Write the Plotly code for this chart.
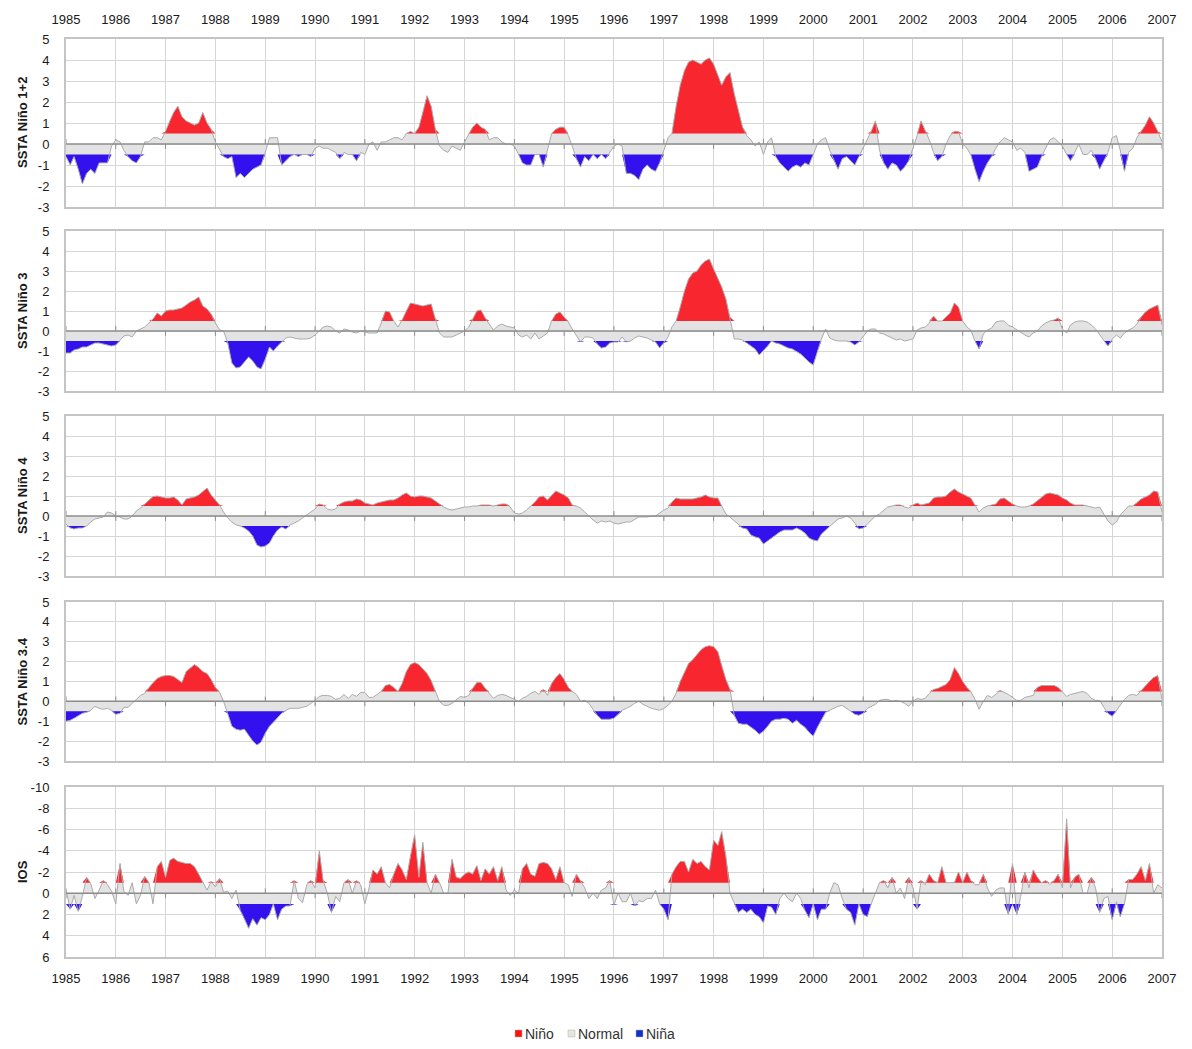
import numpy as np
import pandas as pd
import plotly.graph_objects as go

# ---------------- data ----------------
years = list(range(1985, 2008))
months = pd.date_range("1985-01-01", "2007-01-01", freq="MS")

nino12 = [
    -0.6, -1.0, -0.6, -1.2, -1.9, -1.4, -1.2, -1.4, -0.9, -0.9, -0.9, -0.1,
    0.2, 0.1, -0.3, -0.6, -0.8, -0.9, -0.6, 0.1, 0.1, 0.3, 0.3, 0.2,
    0.6, 1.1, 1.5, 1.8, 1.3, 1.1, 1.0, 0.9, 1.0, 1.5, 1.0, 0.7,
    0.1, -0.3, -0.6, -0.7, -0.6, -1.6, -1.4, -1.6, -1.4, -1.2, -1.1, -1.0,
    -0.4, 0.3, 0.3, 0.3, -1.0, -0.8, -0.6, -0.5, -0.6, -0.5, -0.5, -0.6,
    -0.2, -0.1, -0.2, -0.2, -0.3, -0.4, -0.7, -0.4, -0.5, -0.5, -0.8, -0.4,
    -0.5, 0.0, 0.1, -0.3, 0.1, 0.1, 0.2, 0.3, 0.3, 0.2, 0.5, 0.6,
    0.5, 0.8, 1.5, 2.3, 1.8, 0.7, -0.1, -0.3, -0.4, -0.1, -0.2, -0.3,
    0.1, 0.5, 0.8, 1.0, 0.8, 0.7, 0.2, 0.3, 0.3, 0.1, 0.0, 0.0,
    -0.1, -0.5, -0.9, -1.0, -1.0, -0.5, -0.5, -1.1, -0.3, 0.5, 0.7, 0.8,
    0.8, 0.4, -0.1, -0.7, -1.1, -0.6, -0.8, -0.5, -0.7, -0.5, -0.7, -0.4,
    -0.1, 0.0, -0.1, -1.4, -1.4, -1.5, -1.7, -1.2, -1.0, -1.2, -1.3, -0.9,
    -0.3, 0.3, 0.5, 1.8, 2.8, 3.5, 3.9, 4.0, 3.9, 3.8, 4.0, 4.1,
    3.8, 3.3, 2.8, 3.2, 3.4, 2.4, 1.6, 0.8, 0.4, 0.2, -0.1, 0.1,
    -0.5, 0.1, 0.3, -0.6, -0.9, -1.1, -1.3, -1.1, -1.0, -1.1, -0.9, -1.0,
    -0.5, 0.0, 0.2, 0.3, -0.3, -0.8, -1.2, -0.7, -0.6, -0.8, -1.0, -0.6,
    -0.2, 0.2, 0.6, 1.1, -0.3, -0.9, -1.2, -0.9, -1.0, -1.3, -1.1, -0.8,
    -0.2, 0.4, 1.1, 0.6, 0.2, -0.4, -0.8, -0.6, 0.0, 0.4, 0.6, 0.6,
    0.0, -0.2, -0.5, -1.2, -1.8, -1.3, -0.9, -0.6, -0.2, 0.1, 0.3, 0.2,
    0.1, -0.3, -0.2, -0.4, -1.3, -1.2, -1.1, -0.6, -0.2, 0.2, 0.3, 0.1,
    -0.1, -0.5, -0.8, -0.4, 0.0, -0.5, -0.5, -0.3, -0.7, -1.2, -0.8, -0.4,
    0.3, 0.4, -0.3, -1.3, -0.4, -0.2, 0.3, 0.6, 0.9, 1.3, 1.0, 0.6,
    0.1,
]

nino3 = [
    -1.1, -1.1, -0.95, -0.9, -0.8, -0.8, -0.7, -0.6, -0.6, -0.65, -0.7, -0.75,
    -0.7, -0.45, -0.25, -0.2, -0.3, 0.0, 0.1, 0.2, 0.4, 0.6, 0.9, 0.75,
    1.0, 1.05, 1.05, 1.1, 1.15, 1.3, 1.45, 1.55, 1.7, 1.25, 1.1, 0.85,
    0.4, 0.05, 0.0, -0.6, -1.6, -1.85, -1.8, -1.55, -1.3, -1.5, -1.8, -1.9,
    -1.4, -0.8, -1.0, -0.75, -0.55, -0.35, -0.3, -0.35, -0.4, -0.4, -0.4, -0.35,
    -0.2, 0.0, 0.2, 0.25, 0.2, 0.0, -0.1, 0.1, 0.05, -0.05, -0.1, 0.0,
    -0.05, -0.1, -0.1, -0.1, 0.4, 1.0, 0.95, 0.5, 0.2, 0.55, 1.0, 1.4,
    1.35, 1.3, 1.25, 1.3, 1.35, 0.6, -0.1, -0.3, -0.3, -0.3, -0.2, -0.1,
    0.0, 0.2, 0.6, 1.0, 1.05, 0.65, 0.35, 0.05, 0.25, 0.35, 0.25, 0.2,
    0.15, -0.2, -0.3, -0.2, -0.4, -0.1, -0.4, -0.25, -0.1, 0.5, 0.85, 0.95,
    0.7, 0.45, 0.1, -0.25, -0.55, -0.3, -0.3, -0.35, -0.65, -0.85, -0.8, -0.6,
    -0.55, -0.55, -0.3, -0.55, -0.5, -0.35, -0.25, -0.3, -0.35, -0.45, -0.55, -0.85,
    -0.6, -0.3, 0.2, 0.5, 1.2, 2.0, 2.6, 2.9, 3.0, 3.3, 3.5, 3.6,
    3.1, 2.6, 2.2, 1.6, 0.7, -0.4, -0.4, -0.45, -0.6, -0.75, -0.9, -1.2,
    -1.0, -0.75, -0.5, -0.6, -0.65, -0.75, -0.85, -0.9, -1.05, -1.15, -1.35, -1.55,
    -1.7, -1.0, -0.4, 0.1, -0.35, -0.45, -0.5, -0.5, -0.5, -0.55, -0.7, -0.55,
    -0.3, 0.0, 0.1, 0.1, -0.1, -0.15, -0.25, -0.35, -0.45, -0.4, -0.5, -0.45,
    -0.4, 0.05, 0.15, 0.2, 0.4, 0.75, 0.5, 0.5, 0.7, 0.9, 1.4, 1.2,
    0.5, 0.2, 0.05, -0.5, -0.9, -0.15, 0.05, 0.15, 0.45, 0.5, 0.5, 0.3,
    0.2, 0.05, -0.05, -0.2, -0.3, -0.1, 0.0, 0.25, 0.4, 0.5, 0.55, 0.65,
    0.1, -0.1, 0.3, 0.45, 0.5, 0.5, 0.45, 0.3, 0.1, -0.2, -0.5, -0.75,
    -0.4, -0.2, -0.35, -0.1, 0.05, 0.15, 0.35, 0.7, 0.95, 1.1, 1.2, 1.3,
    0.3,
]

nino4 = [
    -0.4, -0.6, -0.65, -0.6, -0.6, -0.5, -0.3, -0.15, -0.1, -0.05, 0.2, 0.15,
    0.0, -0.05, -0.15, -0.15, 0.0, 0.25, 0.4, 0.6, 0.8, 0.97, 1.0, 0.95,
    0.9, 0.9, 0.95, 0.8, 0.55, 0.85, 0.9, 0.95, 1.05, 1.2, 1.4, 1.05,
    0.8, 0.55, 0.2, -0.1, -0.3, -0.45, -0.5, -0.6, -0.75, -1.0, -1.45, -1.55,
    -1.5, -1.35, -1.0, -0.7, -0.55, -0.65, -0.45, -0.35, -0.25, -0.1, 0.05, 0.2,
    0.35, 0.6, 0.55, 0.35, 0.3, 0.35, 0.6, 0.7, 0.75, 0.75, 0.85, 0.8,
    0.65, 0.6, 0.55, 0.65, 0.7, 0.75, 0.8, 0.8, 0.9, 1.05, 1.15, 1.0,
    0.95, 1.0, 1.0, 0.95, 0.9, 0.75, 0.6, 0.45, 0.35, 0.3, 0.35, 0.4,
    0.45, 0.45, 0.5, 0.5, 0.55, 0.55, 0.55, 0.5, 0.55, 0.6, 0.6, 0.45,
    0.15, 0.1, 0.15, 0.3, 0.5, 0.7, 0.95, 1.0, 0.8, 1.05, 1.25, 1.15,
    1.05, 0.9, 0.55, 0.5, 0.4, 0.2, 0.0, -0.2, -0.35, -0.25, -0.3, -0.25,
    -0.35, -0.4, -0.35, -0.3, -0.3, -0.15, -0.05, -0.05, -0.05, 0.0, 0.0, 0.15,
    0.3, 0.4, 0.7, 0.9, 0.85, 0.85, 0.85, 0.85, 0.9, 0.95, 1.05, 0.95,
    0.9, 0.9, 0.5, 0.1, -0.05, -0.25, -0.4, -0.6, -0.65, -0.95, -1.05, -1.1,
    -1.4, -1.25, -1.1, -0.95, -0.8, -0.7, -0.7, -0.7, -0.6, -0.7, -0.85, -1.1,
    -1.2, -1.25, -0.9, -0.7, -0.5, -0.3, -0.15, -0.1, 0.0, -0.1, -0.35, -0.65,
    -0.6, -0.4, -0.2, 0.0, 0.1, 0.3, 0.45, 0.5, 0.55, 0.55, 0.45, 0.4,
    0.55, 0.65, 0.55, 0.6, 0.65, 0.9, 0.95, 0.95, 1.0, 1.2, 1.35, 1.2,
    1.1, 1.0, 0.9, 0.55, 0.2, 0.4, 0.5, 0.55, 0.6, 0.85, 0.9, 0.75,
    0.6, 0.5, 0.45, 0.45, 0.5, 0.6, 0.75, 0.95, 1.1, 1.15, 1.1, 1.05,
    0.9, 0.8, 0.65, 0.55, 0.55, 0.55, 0.5, 0.45, 0.4, 0.45, 0.1, -0.25,
    -0.45, -0.3, 0.05, 0.3, 0.5, 0.5, 0.65, 0.85, 0.95, 1.05, 1.25, 1.2,
    0.2,
]

nino34 = [
    -1.0, -0.95, -0.85, -0.7, -0.6, -0.55, -0.45, -0.25, -0.35, -0.4, -0.35, -0.45,
    -0.65, -0.6, -0.3, -0.3, -0.1, 0.15, 0.3, 0.4, 0.7, 0.95, 1.15, 1.25,
    1.3, 1.3, 1.25, 1.1, 0.95, 1.5, 1.65, 1.85, 1.7, 1.5, 1.4, 1.1,
    0.7, 0.45, 0.0, -0.6, -1.25, -1.4, -1.45, -1.4, -1.7, -2.0, -2.2, -2.05,
    -1.6, -1.25, -1.05, -0.8, -0.6, -0.45, -0.35, -0.35, -0.35, -0.3, -0.25, -0.1,
    0.05, 0.25, 0.3, 0.3, 0.25, 0.1, 0.15, 0.35, 0.15, 0.35, 0.25, 0.45,
    0.45, 0.2, 0.2, 0.35, 0.5, 0.8, 0.85, 0.7, 0.5, 0.9, 1.5, 1.85,
    1.95, 1.85, 1.65, 1.4, 1.05, 0.5, 0.0, -0.2, -0.2, -0.1, 0.1, 0.25,
    0.2, 0.3, 0.65, 0.95, 0.95, 0.65, 0.4, 0.15, 0.3, 0.35, 0.3, 0.2,
    0.1, 0.0, 0.15, 0.25, 0.4, 0.5, 0.35, 0.6, 0.3, 0.9, 1.2, 1.4,
    1.1, 0.7, 0.5, 0.35, 0.0, 0.05, -0.1, -0.4, -0.7, -0.9, -0.9, -0.9,
    -0.85, -0.65, -0.45, -0.35, -0.25, -0.1, 0.0, -0.15, -0.25, -0.35, -0.4, -0.45,
    -0.35, -0.2, 0.0, 0.4, 1.0, 1.5, 1.9, 2.1, 2.35, 2.6, 2.75, 2.8,
    2.75, 2.5, 1.8, 1.1, 0.6, -0.7, -1.1, -1.15, -1.15, -1.3, -1.45, -1.65,
    -1.5, -1.25, -1.0, -0.9, -0.9, -0.85, -0.9, -1.1, -0.95, -1.15, -1.3, -1.55,
    -1.75, -1.3, -0.95, -0.55, -0.45, -0.35, -0.25, -0.2, -0.35, -0.5, -0.65, -0.7,
    -0.6, -0.35, -0.25, -0.15, 0.05, 0.1, 0.1, 0.0, 0.05, 0.0, -0.1, -0.25,
    0.0, 0.15, 0.1, 0.15, 0.4, 0.6, 0.65, 0.75, 0.85, 1.1, 1.7, 1.4,
    1.0, 0.7, 0.5, 0.1, -0.4, 0.0, 0.3, 0.2, 0.35, 0.55, 0.45, 0.35,
    0.2, 0.05, 0.05, 0.2, 0.25, 0.3, 0.7, 0.8, 0.8, 0.8, 0.8, 0.7,
    0.45, 0.25, 0.35, 0.4, 0.45, 0.5, 0.4, 0.15, 0.05, 0.05, -0.3, -0.6,
    -0.75, -0.45, -0.15, 0.1, 0.3, 0.35, 0.3, 0.55, 0.8, 1.0, 1.2, 1.3,
    0.1,
]

ios = [
    -0.3, 1.5, 0.2, 1.7, 0.3, -1.5, -0.9, 0.5, -0.3, -1.2, -0.8, -0.2,
    1.0, -2.8, -0.2, 0.2, -1.0, 1.0, 0.2, -1.6, -1.0, 1.0, -2.5, -3.0,
    -1.5, -3.1, -3.3, -3.0, -2.9, -2.8, -2.8, -2.5, -1.8, -1.0, -0.3, -1.1,
    -0.6, -1.4, -0.1, -0.2, 0.5, -0.3, 1.6, 2.4, 3.3, 2.4, 3.0, 2.3,
    2.5, 2.0, 1.0, 2.5, 1.5, 1.2, 1.2, -1.2, 0.5, 0.9, -0.8, -1.2,
    -0.5, -4.0, -1.2, 0.0, 1.8, 0.3, 0.8, -1.0, -1.3, 0.0, -1.2, -0.8,
    1.0, -0.5, -2.2, -1.8, -2.5, -1.0, -0.5, -1.8, -2.8, -2.2, -1.3, -3.5,
    -5.5, -1.5, -4.8, -1.0, 0.0, -1.8, -1.0, 0.0, 0.0, -3.2, -1.5, -1.4,
    -1.8, -2.0, -1.8, -2.6, -1.2, -2.3, -1.8, -2.5, -1.2, -2.5, -0.3, 0.2,
    -0.3, 0.0, -2.3, -2.8, -1.8, -1.6, -2.8, -2.9, -2.8, -2.3, -1.3, -2.5,
    -1.0, -0.8, 0.3, -1.8, -1.2, -0.5, 0.5, 0.0, 0.5, -0.3, -0.5, -1.2,
    1.1, 0.0, 0.8, 0.8, 0.0, 1.2, 0.7, 0.8, 0.5, 0.5, -0.3, 1.0,
    1.5, 2.5, -1.8, -2.5, -3.0, -3.0, -2.0, -3.2, -2.8, -3.0, -2.5, -2.2,
    -5.0, -4.5, -5.8, -3.5, 0.0, 1.0, 1.8, 1.5, 1.8, 1.5, 2.0, 2.2,
    2.8, 1.2, 1.3, 2.0, 0.5, 0.0, 0.5, 0.8, 0.0, 0.5, 1.6, 2.3,
    1.0, 2.5, 1.5, 1.5, 0.0, -1.0, -0.8, 0.5, 1.5, 1.8, 3.0, 1.0,
    2.0, 2.2, 1.0, 0.0, -1.0, -1.2, -0.5, -1.5, 0.0, -0.5, 0.5, -1.5,
    -0.5, 1.5, -1.2, -0.8, -1.8, -1.2, -1.0, -2.5, -1.0, -1.0, -1.0, -2.0,
    -1.0, -2.0, -1.2, -0.8, -0.8, -1.8, -0.5, 0.3, -0.3, -0.5, -0.5, 2.0,
    -2.8, 2.0, 0.3, -2.0, -0.5, -2.2, -1.5, -1.0, -1.2, -0.8, -1.2, -1.8,
    -0.5, -7.0, -0.5, -1.5, -1.8, 0.0, 0.0, -1.5, -0.5, 1.8, 0.5, 0.3,
    2.5, 0.8, 2.2, 1.0, -1.3, -1.3, -1.8, -2.5, -1.2, -2.8, 0.0, -0.8,
    -0.5,
]

panel_titles = ["SSTA Niño 1+2", "SSTA Niño 3", "SSTA Niño 4", "SSTA Niño 3.4", "IOS"]
legend_labels = ["Niño", "Normal", "Niña"]
sst_ticks = list(range(-3, 6))
ios_ticks = list(range(-10, 7, 2))

# ---------------- style ----------------
RED = "#f8262f"
BLUE = "#3311ee"
GREY = "#e3e3e3"
OUTLINE = "#ababab"
GRID = "#d6d6d6"
BORDER = "#c4c4c4"
ZERO = "#8c8c8c"
FONT = "Liberation Sans, Arial, sans-serif"
TXT = "#1a1a1a"

# the page body has an 8px margin: size the figure so that it fits the window
OFF = 8
W, H = 1192 - 2 * OFF, 1049 - 2 * OFF
ML = 66 - OFF
MT = 39 - OFF
PW = 1096
PH = 957 - 39
MR = W - ML - PW
MB = H - MT - PH


def px_x(px):
    # page pixel -> paper x
    return (px - OFF - ML) / PW


def px_y(py):
    # page pixel -> paper y
    return (MT + PH - (py - OFF)) / PH


# panel pixel extents on the page (top, bottom)
panels_px = [(39, 207), (231, 391), (416, 576), (602, 761), (787, 957)]

series = [nino12, nino3, nino4, nino34, ios]
thresholds = [0.5, 0.5, 0.5, 0.5, 1.0]

fig = go.Figure()
tick_x = [pd.Timestamp(f"{y}-01-01") for y in years]

for k, (vals, thr) in enumerate(zip(series, thresholds), start=1):
    xa = "x" if k == 1 else f"x{k}"
    ya = "y" if k == 1 else f"y{k}"
    v = np.array(vals, dtype=float)
    n = len(v)
    common = dict(xaxis=xa, yaxis=ya, showlegend=False, hoverinfo="skip")
    is_ios = (k == 5)
    pos_col = BLUE if is_ios else RED
    neg_col = RED if is_ios else BLUE

    # small year tick marks on the zero axis (under the fills)
    fig.add_trace(go.Scatter(x=tick_x, y=[0] * len(tick_x), mode="markers",
                             marker=dict(symbol="line-ns", size=7,
                                         line=dict(color=ZERO, width=1)),
                             **common))
    # Normal (grey) area
    fig.add_trace(go.Scatter(x=months[:n], y=v, mode="lines", fill="tozeroy",
                             fillcolor=GREY, line=dict(width=0), **common))
    # positive excess area
    fig.add_trace(go.Scatter(x=months[:n], y=np.full(n, thr), mode="lines",
                             line=dict(width=0, color=GREY), **common))
    fig.add_trace(go.Scatter(x=months[:n], y=np.maximum(v, thr), mode="lines",
                             fill="tonexty", fillcolor=pos_col,
                             line=dict(width=0), **common))
    # negative excess area
    fig.add_trace(go.Scatter(x=months[:n], y=np.full(n, -thr), mode="lines",
                             line=dict(width=0, color=GREY), **common))
    fig.add_trace(go.Scatter(x=months[:n], y=np.minimum(v, -thr), mode="lines",
                             fill="tonexty", fillcolor=neg_col,
                             line=dict(width=0), **common))
    # outline
    fig.add_trace(go.Scatter(x=months[:n], y=v, mode="lines",
                             line=dict(color=OUTLINE, width=1), **common))

layout = dict(
    width=W, height=H,
    margin=dict(l=ML, r=MR, t=MT, b=MB, pad=0, autoexpand=False),
    paper_bgcolor="white", plot_bgcolor="white",
    font=dict(family=FONT, size=13, color=TXT),
    showlegend=False,
)

shapes = []
annotations = []
for k, (top, bot) in enumerate(panels_px, start=1):
    xname = "xaxis" if k == 1 else f"xaxis{k}"
    yname = "yaxis" if k == 1 else f"yaxis{k}"
    ya = "y" if k == 1 else f"y{k}"
    xa = "x" if k == 1 else f"x{k}"
    layout[xname] = dict(
        domain=[0, 1], anchor=ya, type="date",
        range=["1985-01-01", "2007-01-01"],
        tickvals=[f"{y}-01-01" for y in years],
        ticktext=[str(y) for y in years],
        showgrid=True, gridcolor=GRID, gridwidth=1,
        showline=True, mirror=True, linecolor=BORDER, linewidth=2,
        zeroline=False, ticks="", automargin=False,
        showticklabels=(k in (1, 5)),
        side="top" if k == 1 else "bottom",
        ticklabelstandoff=8,
        tickfont=dict(family=FONT, size=13, color=TXT),
    )
    if k < 5:
        yaxis = dict(range=[-3, 5], tickvals=sst_ticks,
                     ticktext=[str(t) for t in sst_ticks])
    else:
        yaxis = dict(range=[6, -10], tickvals=ios_ticks,
                     ticktext=[str(t) for t in ios_ticks])
    yaxis.update(
        domain=[px_y(bot), px_y(top)], anchor=xa,
        showgrid=True, gridcolor=GRID, gridwidth=1,
        showline=True, mirror=True, linecolor=BORDER, linewidth=2,
        zeroline=False, ticks="", ticklabelstandoff=12, automargin=False,
        tickfont=dict(family=FONT, size=13, color=TXT),
    )
    layout[yname] = yaxis

    # zero axis line drawn above the fills
    shapes.append(dict(type="line", xref=f"{xa} domain", yref=ya,
                       x0=0, x1=1, y0=0, y1=0,
                       line=dict(color=ZERO, width=1.5), layer="above"))
    # rotated axis title
    annotations.append(dict(text=f"<b>{panel_titles[k-1]}</b>",
                            xref="paper", yref="paper",
                            x=px_x(22), y=px_y((top + bot) / 2),
                            textangle=-90, showarrow=False,
                            xanchor="center", yanchor="middle",
                            font=dict(family=FONT, size=13, color=TXT)))

# legend at the bottom
legend_items = [
    (legend_labels[0], "#ff1010", 515),
    (legend_labels[1], "#e6e6e0", 568),
    (legend_labels[2], "#1133cc", 636),
]
for label, col, px0 in legend_items:
    shapes.append(dict(type="rect", xref="paper", yref="paper",
                       x0=px_x(px0), x1=px_x(px0 + 7),
                       y0=px_y(1037), y1=px_y(1030),
                       fillcolor=col, line=dict(color="#b0b0b0", width=0.5)))
    annotations.append(dict(text=label, xref="paper", yref="paper",
                            x=px_x(px0 + 7.5), y=px_y(1033.5),
                            xanchor="left", yanchor="middle", showarrow=False,
                            font=dict(family=FONT, size=14, color="#333333")))

layout["shapes"] = shapes
layout["annotations"] = annotations
fig.update_layout(**layout)

fig.write_html("out.html")
